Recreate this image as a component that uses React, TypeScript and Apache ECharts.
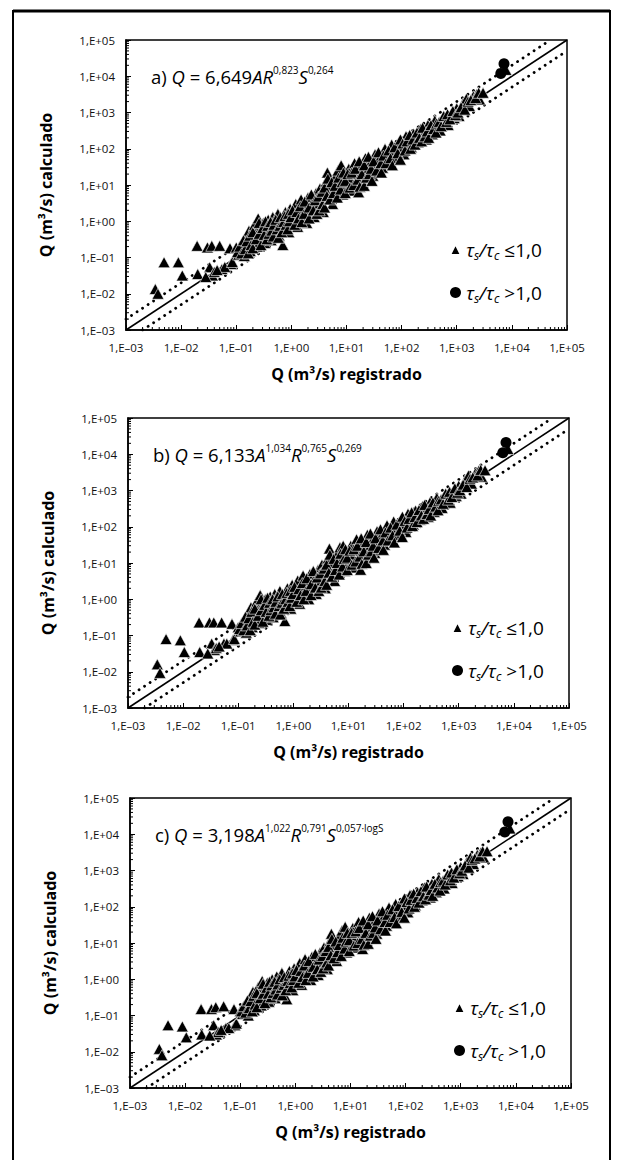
import React, { useEffect, useRef } from "react";
import * as echarts from "echarts";

// ---------- tick labels ----------
const TICK_LABELS = ["1,E–03", "1,E–02", "1,E–01", "1,E+00", "1,E+01", "1,E+02", "1,E+03", "1,E+04", "1,E+05"];
const AXIS_MIN = 1e-3;
const AXIS_MAX = 1e5;
const MINOR_MULT = [2, 3, 4, 5, 6, 7, 8, 9];
const DECADES = [1e-3, 1e-2, 1e-1, 1, 10, 100, 1000, 1e4];

// ---------- data: tau_s/tau_c <= 1,0 (Q registrado) ----------
const Q_REG_LE = [
  0.0034, 0.0038, 0.0049, 0.0089, 0.0105, 0.0195, 0.02, 0.03, 0.033, 0.036, 0.037, 0.05, 0.055, 0.077, 0.08, 0.1, 0.04, 0.062, 0.085, 0.045, 0.028,
  0.11, 0.12, 0.13, 0.14, 0.15, 0.16, 0.17, 0.18, 0.19, 0.21, 0.22, 0.24, 0.25, 0.27, 0.29, 0.31, 0.33, 0.35, 0.38, 0.4,
  0.43, 0.46, 0.5, 0.53, 0.57, 0.6, 0.65, 0.7, 0.74, 0.78, 0.83, 0.9, 0.95, 1.0, 1.1, 1.2, 1.3, 1.4, 1.5, 1.6,
  1.8, 1.9, 2.0, 2.2, 2.4, 2.6, 2.8, 3.0, 3.3, 3.5, 3.8, 4.2, 4.5, 4.8, 5.2, 5.6, 6.0, 6.5, 7.0, 7.5,
  8.0, 8.5, 9.0, 10, 11, 12, 13, 14, 15, 16.6, 18, 20, 22, 24, 27, 30, 33, 36, 40, 45,
  50, 55, 60, 66, 72, 80, 90, 100, 110, 120, 135, 150, 165, 180, 200, 220, 250, 280, 300, 330,
  360, 400, 450, 500, 550, 600, 700, 800, 900, 1000, 1100, 1300, 1500, 1700, 2000, 2300, 2600, 7800,
];
const Q_REG_LE_DENSE = [
  0.105, 0.115, 0.125, 0.135, 0.145, 0.155, 0.165, 0.175, 0.185, 0.2, 0.2, 0.23, 0.26, 0.26, 0.28, 0.3, 0.32, 0.34, 0.36, 0.37,
  0.39, 0.42, 0.44, 0.47, 0.48, 0.52, 0.55, 0.58, 0.62, 0.63, 0.67, 0.72, 0.76, 0.8, 0.86, 0.88, 0.92, 0.98,
  1.05, 1.15, 1.25, 1.35, 1.45, 1.55, 1.7, 1.75, 2.1, 2.1, 2.3, 2.5, 2.7, 2.9, 3.1, 3.2, 3.6, 3.7, 4.0, 4.0,
  4.4, 4.6, 5.0, 5.4, 5.8, 6.2, 6.8, 7.2, 7.8, 8.3, 8.8, 9.5, 9.5,
  10.5, 11.5, 12.5, 13.5, 14.5, 16, 17, 17.5, 19, 21, 21, 23, 25, 26, 28, 29, 31, 35, 38, 42,
  43, 47, 52, 58, 63, 68, 75, 85, 95, 95,
  105, 115, 125, 140, 145, 160, 175, 190, 210, 230, 240, 265, 290, 310, 340, 380, 420, 430, 480, 520,
  580, 650, 680, 750, 850, 950, 1050, 1200, 1400, 1600, 1800, 2200, 2500, 3000,
];
// Q calculado, panel a
const Q_CALC_LE_A = [
  0.0135, 0.01, 0.074, 0.074, 0.032, 0.21, 0.035, 0.19, 0.054, 0.21, 0.032, 0.21, 0.048, 0.18, 0.066, 0.19, 0.04, 0.055, 0.075, 0.045, 0.029,
  0.12, 0.16, 0.25, 0.11, 0.35, 0.22, 0.55, 0.15, 0.3, 0.75, 0.45, 0.2, 1.2, 0.6, 0.35, 0.9, 0.25, 0.5, 1.1, 0.7,
  0.3, 1.3, 0.55, 0.85, 1.6, 0.4, 1.0, 0.22, 0.65, 1.8, 1.2, 0.5, 2.2, 0.9, 1.5, 3.0, 0.7, 2.0, 4.0, 1.2,
  2.6, 0.9, 4.5, 1.8, 3.2, 1.3, 6.0, 2.5, 8.0, 4.0, 1.8, 12, 22, 6.0, 9.0, 3.0, 15, 7.0, 25, 11,
  35, 5.5, 18, 9, 28, 14, 7.0, 40, 20, 6.3, 30, 12, 55, 25, 40, 18, 70, 35, 55, 30,
  100, 60, 40, 130, 80, 55, 150, 100, 70, 220, 150, 110, 260, 200, 150, 350, 250, 180, 450, 330,
  250, 600, 400, 320, 650, 500, 450, 900, 700, 1300, 800, 1800, 2400, 1500, 2800, 3200, 2300, 15000,
];
const Q_CALC_LE_DENSE_A = [
  0.14, 0.2, 0.13, 0.3, 0.17, 0.28, 0.13, 0.4, 0.22, 0.5, 0.18, 0.32, 0.45, 0.9, 0.22, 0.65, 0.42, 1.0, 0.32, 0.75,
  0.45, 0.95, 0.55, 0.38, 0.8, 1.1, 0.6, 0.35, 0.75, 1.3, 0.5, 0.95, 1.4, 0.8, 0.6, 1.6, 1.0, 1.3,
  2.0, 0.8, 1.8, 1.2, 2.6, 0.95, 1.6, 3.5, 2.4, 1.2, 5.5, 2.0, 3.8, 1.6, 4.8, 2.0, 6.5, 3.0, 8.5, 2.4,
  5.0, 15, 4.0, 12, 6.0, 9.5, 4.5, 16, 7.5, 12, 22, 6.0, 13,
  20, 8.5, 22, 10, 28, 14, 45, 9, 20, 35, 9.5, 16, 60, 20, 28, 13, 45, 25, 80, 40,
  22, 65, 40, 90, 55, 35, 110, 75, 50, 180,
  140, 90, 160, 240, 100, 180, 130, 280, 200, 160, 380, 220, 300, 200, 450, 350, 280, 500, 550, 420,
  800, 550, 900, 650, 1100, 850, 1000, 1400, 1200, 2000, 2200, 2500, 3500, 3500,
];
// Q calculado, panel b
const Q_CALC_LE_B = [
  0.016, 0.0093, 0.08, 0.074, 0.035, 0.23, 0.035, 0.23, 0.06, 0.23, 0.04, 0.23, 0.06, 0.21, 0.075, 0.17, 0.045, 0.06, 0.08, 0.05, 0.032,
  0.13, 0.18, 0.28, 0.12, 0.4, 0.25, 0.6, 0.17, 0.33, 0.8, 0.5, 0.22, 1.3, 0.65, 0.38, 1.0, 0.27, 0.55, 1.2, 0.75,
  0.32, 1.4, 0.6, 0.9, 1.7, 0.42, 1.1, 0.25, 0.7, 2.0, 1.3, 0.55, 2.5, 1.0, 1.6, 3.3, 0.75, 2.2, 4.5, 1.3,
  2.8, 1.0, 5.0, 2.0, 3.5, 1.4, 6.5, 2.7, 9.0, 4.3, 2.0, 13, 25, 6.5, 10, 3.2, 16, 7.5, 27, 12,
  30, 6.0, 20, 10, 30, 15, 7.5, 45, 22, 6.5, 32, 13, 60, 27, 42, 19, 75, 38, 58, 32,
  110, 65, 42, 140, 85, 58, 160, 105, 72, 230, 155, 115, 280, 210, 155, 370, 260, 185, 470, 340,
  255, 620, 410, 330, 680, 510, 460, 920, 710, 1350, 820, 1900, 2600, 1550, 3000, 3500, 2400, 14000,
];
const Q_CALC_LE_DENSE_B = [
  0.15, 0.22, 0.14, 0.33, 0.19, 0.3, 0.14, 0.45, 0.24, 0.55, 0.2, 0.35, 0.5, 1.0, 0.24, 0.7, 0.45, 1.1, 0.35, 0.8,
  0.5, 1.0, 0.6, 0.4, 0.85, 1.2, 0.65, 0.38, 0.8, 1.4, 0.55, 1.0, 1.5, 0.85, 0.65, 1.7, 1.1, 1.4,
  2.2, 0.85, 1.9, 1.3, 2.8, 1.0, 1.7, 3.8, 2.6, 1.3, 6.0, 2.1, 4.0, 1.7, 5.2, 2.1, 7.0, 3.2, 9.0, 2.5,
  5.4, 17, 4.2, 13, 6.4, 10, 4.8, 18, 8.0, 13, 24, 6.4, 14,
  22, 9, 24, 11, 30, 15, 48, 9.5, 21, 38, 10, 17, 65, 21, 30, 14, 48, 26, 85, 42,
  23, 70, 42, 95, 58, 37, 115, 78, 52, 190,
  145, 95, 165, 250, 105, 185, 135, 290, 205, 165, 400, 225, 310, 205, 470, 360, 285, 520, 570, 430,
  820, 560, 920, 660, 1150, 870, 1020, 1450, 1250, 2100, 2300, 2600, 3700, 3600,
];
// Q calculado, panel c
const Q_CALC_LE_C = [
  0.012, 0.008, 0.054, 0.05, 0.025, 0.15, 0.03, 0.15, 0.054, 0.17, 0.03, 0.18, 0.045, 0.15, 0.054, 0.13, 0.035, 0.045, 0.06, 0.04, 0.028,
  0.11, 0.15, 0.22, 0.1, 0.3, 0.2, 0.45, 0.14, 0.28, 0.6, 0.4, 0.19, 0.9, 0.55, 0.32, 0.8, 0.24, 0.48, 1.0, 0.65,
  0.3, 1.2, 0.52, 0.8, 1.5, 0.4, 0.95, 0.28, 0.62, 1.7, 1.1, 0.5, 2.0, 0.85, 1.4, 2.8, 0.7, 1.9, 3.6, 1.2,
  2.4, 0.95, 4.2, 1.8, 3.0, 1.3, 5.5, 2.4, 7.5, 3.8, 1.9, 11, 18, 5.8, 8.5, 3.2, 14, 6.8, 22, 10,
  28, 5.5, 17, 9, 26, 13, 7.5, 38, 19, 6.8, 28, 12, 50, 24, 38, 18, 65, 34, 52, 30,
  95, 58, 40, 120, 78, 55, 140, 98, 70, 210, 145, 110, 250, 195, 150, 340, 245, 180, 430, 320,
  250, 580, 390, 320, 630, 490, 450, 880, 690, 1250, 800, 1750, 2300, 1500, 2700, 3100, 2300, 14500,
];
const Q_CALC_LE_DENSE_C = [
  0.13, 0.18, 0.12, 0.26, 0.16, 0.25, 0.13, 0.35, 0.2, 0.42, 0.17, 0.3, 0.4, 0.75, 0.22, 0.58, 0.4, 0.85, 0.32, 0.68,
  0.42, 0.85, 0.52, 0.38, 0.72, 1.0, 0.58, 0.36, 0.7, 1.15, 0.5, 0.9, 1.25, 0.78, 0.6, 1.45, 0.95, 1.2,
  1.8, 0.8, 1.7, 1.15, 2.4, 0.95, 1.5, 3.2, 2.2, 1.2, 5.0, 1.9, 3.5, 1.6, 4.4, 2.0, 6.0, 2.9, 7.8, 2.4,
  4.6, 13, 3.8, 11, 5.6, 8.8, 4.4, 14, 7.0, 11, 19, 6.0, 12,
  19, 8.5, 21, 10, 26, 13, 42, 9, 19, 33, 9.5, 16, 55, 19, 27, 13, 42, 24, 75, 38,
  22, 60, 38, 85, 52, 35, 105, 72, 50, 170,
  135, 90, 155, 230, 100, 175, 130, 270, 195, 160, 360, 215, 290, 200, 430, 340, 280, 480, 530, 410,
  780, 540, 880, 640, 1080, 840, 990, 1380, 1200, 1950, 2150, 2450, 3400, 3400,
];

// ---------- data: tau_s/tau_c > 1,0 ----------
const Q_REG_GT = [7200, 6300];
const Q_CALC_GT_A = [22000, 12000];
const Q_CALC_GT_B = [21000, 11000];
const Q_CALC_GT_C = [22000, 11500];

// reference lines: Q calc = Q reg, and factor-2 bands
const LINE_EQUAL = [[1e-3, 1e-3], [1e5, 1e5]];
const LINE_UPPER = [[1e-3, 2e-3], [5e4, 1e5]];
const LINE_LOWER = [[2e-3, 1e-3], [1e5, 5e4]];

const EQUATIONS = [
  "{n|a) }{i|Q}{n| = 6,649}{i|AR}{p|0,823}{i|S}{p|0,264}",
  "{n|b) }{i|Q}{n| = 6,133}{i|A}{p|1,034}{i|R}{p|0,765}{i|S}{p|0,269}",
  "{n|c) }{i|Q}{n| = 3,198}{i|A}{p|1,022}{i|R}{p|0,791}{i|S}{p|0,057·logS}",
];
const REG_ALL = Q_REG_LE.concat(Q_REG_LE_DENSE);
const CALC_LE = [
  Q_CALC_LE_A.concat(Q_CALC_LE_DENSE_A),
  Q_CALC_LE_B.concat(Q_CALC_LE_DENSE_B),
  Q_CALC_LE_C.concat(Q_CALC_LE_DENSE_C),
];
const CALC_GT = [Q_CALC_GT_A, Q_CALC_GT_B, Q_CALC_GT_C];

const FONT = "'Open Sans', sans-serif";
const GRIDS = [
  { left: 126, top: 40, width: 441, height: 290 },
  { left: 128, top: 418, width: 441, height: 290 },
  { left: 130, top: 798, width: 441, height: 290 },
];

const zip = (a: number[], b: number[]) => a.map((v, i) => [v, b[i]]);
const tickLabel = (v: number) => {
  const e = Math.round(Math.log10(v));
  return TICK_LABELS[e + 3] ?? "";
};
const MINOR = DECADES.flatMap((d) => MINOR_MULT.map((m) => d * m));

function buildOption() {
  const grid: any[] = [];
  const xAxis: any[] = [];
  const yAxis: any[] = [];
  const series: any[] = [];
  const title: any[] = [];
  const legend: any[] = [];

  GRIDS.forEach((g, i) => {
    grid.push({ ...g, show: true, borderColor: "#000", borderWidth: 1.5, backgroundColor: "transparent" });
    const axisCommon = {
      type: "log",
      logBase: 10,
      min: AXIS_MIN,
      max: AXIS_MAX,
      gridIndex: i,
      axisLine: { onZero: false, lineStyle: { color: "#000", width: 1.5 } },
      axisTick: { inside: true, length: 5, lineStyle: { color: "#000", width: 1 } },
      splitLine: { show: false },
      axisLabel: {
        formatter: tickLabel,
        color: "#111",
        fontSize: 11.5,
        fontFamily: FONT,
        showMinLabel: true,
        showMaxLabel: true,
        margin: 11,
      },
      nameLocation: "middle",
      nameTextStyle: { fontFamily: FONT, fontWeight: "bold", fontSize: 16, color: "#000" },
    };
    xAxis.push({ ...axisCommon, name: "Q (m³/s) registrado", nameGap: 36 });
    yAxis.push({ ...axisCommon, name: "Q (m³/s) calculado", nameGap: 72 });

    const lineBase = { type: "line", xAxisIndex: i, yAxisIndex: i, symbol: "none", silent: true, z: 1 };
    series.push({ ...lineBase, data: LINE_EQUAL, lineStyle: { color: "#000", width: 1.6 } });
    series.push({ ...lineBase, data: LINE_UPPER, lineStyle: { color: "#000", width: 2.8, type: [0.1, 6.5], cap: "round" } });
    series.push({ ...lineBase, data: LINE_LOWER, lineStyle: { color: "#000", width: 2.8, type: [0.1, 6.5], cap: "round" } });

    series.push({
      name: "le",
      type: "scatter",
      xAxisIndex: i,
      yAxisIndex: i,
      symbol: "triangle",
      symbolSize: [12, 11],
      itemStyle: { color: "#000", borderColor: "#fff", borderWidth: 0.6, opacity: 1 },
      data: zip(REG_ALL, CALC_LE[i]),
      z: 3,
    });
    series.push({
      name: "gt",
      type: "scatter",
      xAxisIndex: i,
      yAxisIndex: i,
      symbol: "circle",
      symbolSize: 11,
      itemStyle: { color: "#000", opacity: 1 },
      data: zip(Q_REG_GT, CALC_GT[i]),
      z: 4,
    });

    // log minor ticks
    series.push({
      type: "custom",
      xAxisIndex: i,
      yAxisIndex: i,
      silent: true,
      clip: false,
      encode: { x: 0, y: 1 },
      data: MINOR.map((v) => [v, AXIS_MIN]),
      renderItem: (_p: any, api: any) => {
        const pt = api.coord([api.value(0), api.value(1)]);
        return { type: "line", shape: { x1: pt[0], y1: pt[1], x2: pt[0], y2: pt[1] - 3 }, style: { stroke: "#000", lineWidth: 1 } };
      },
      z: 2,
    });
    series.push({
      type: "custom",
      xAxisIndex: i,
      yAxisIndex: i,
      silent: true,
      clip: false,
      encode: { x: 0, y: 1 },
      data: MINOR.map((v) => [AXIS_MIN, v]),
      renderItem: (_p: any, api: any) => {
        const pt = api.coord([api.value(0), api.value(1)]);
        return { type: "line", shape: { x1: pt[0], y1: pt[1], x2: pt[0] + 3, y2: pt[1] }, style: { stroke: "#000", lineWidth: 1 } };
      },
      z: 2,
    });

    title.push({
      text: EQUATIONS[i],
      left: g.left + 20,
      top: g.top + 20,
      textStyle: {
        fontWeight: "normal",
        rich: {
          n: { fontFamily: FONT, fontSize: 18.5, fontWeight: "normal", color: "#000", lineHeight: 22 },
          i: { fontFamily: FONT, fontSize: 18.5, fontWeight: "normal", fontStyle: "italic", color: "#000", lineHeight: 22 },
          p: { fontFamily: FONT, fontSize: 10, fontWeight: "normal", color: "#000", lineHeight: 11, verticalAlign: "top" },
        },
      },
    });

    const richLegend = {
      t: { fontFamily: FONT, fontSize: 19, fontStyle: "italic", color: "#000", lineHeight: 23 },
      s: { fontFamily: FONT, fontSize: 12, fontStyle: "italic", color: "#000", lineHeight: 12, verticalAlign: "bottom" },
      r: { fontFamily: FONT, fontSize: 19, color: "#000", lineHeight: 23 },
    };
    legend.push({
      orient: "vertical",
      left: g.left + 318,
      top: g.top + 195,
      itemWidth: 11,
      itemHeight: 11,
      itemGap: 22,
      selectedMode: false,
      data: [
        { name: "le", icon: "triangle" },
        { name: "gt", icon: "circle" },
      ],
      formatter: (name: string) =>
        name === "le" ? "{t|τ}{s|s}{t|/τ}{s|c}{r| ≤1,0}" : "{t|τ}{s|s}{t|/τ}{s|c}{r| >1,0}",
      textStyle: { rich: richLegend },
    });
  });

  return {
    animation: false,
    backgroundColor: "#fff",
    grid,
    xAxis,
    yAxis,
    series,
    title,
    legend,
    graphic: [
      { type: "rect", shape: { x: 13, y: 11, width: 597, height: 1200 }, style: { fill: "none", stroke: "#000", lineWidth: 2 }, silent: true },
      { type: "line", shape: { x1: 13, y1: 11, x2: 610, y2: 11 }, style: { stroke: "#000", lineWidth: 3 }, silent: true },
    ],
  };
}

export default function App() {
  const ref = useRef<HTMLDivElement>(null);
  useEffect(() => {
    if (!ref.current) return;
    const chart = echarts.init(ref.current, null, { renderer: "svg" });
    chart.setOption(buildOption() as any);
    return () => chart.dispose();
  }, []);
  return <div ref={ref} style={{ position: "absolute", left: 0, top: 0, width: 619, height: 1160 }} />;
}
